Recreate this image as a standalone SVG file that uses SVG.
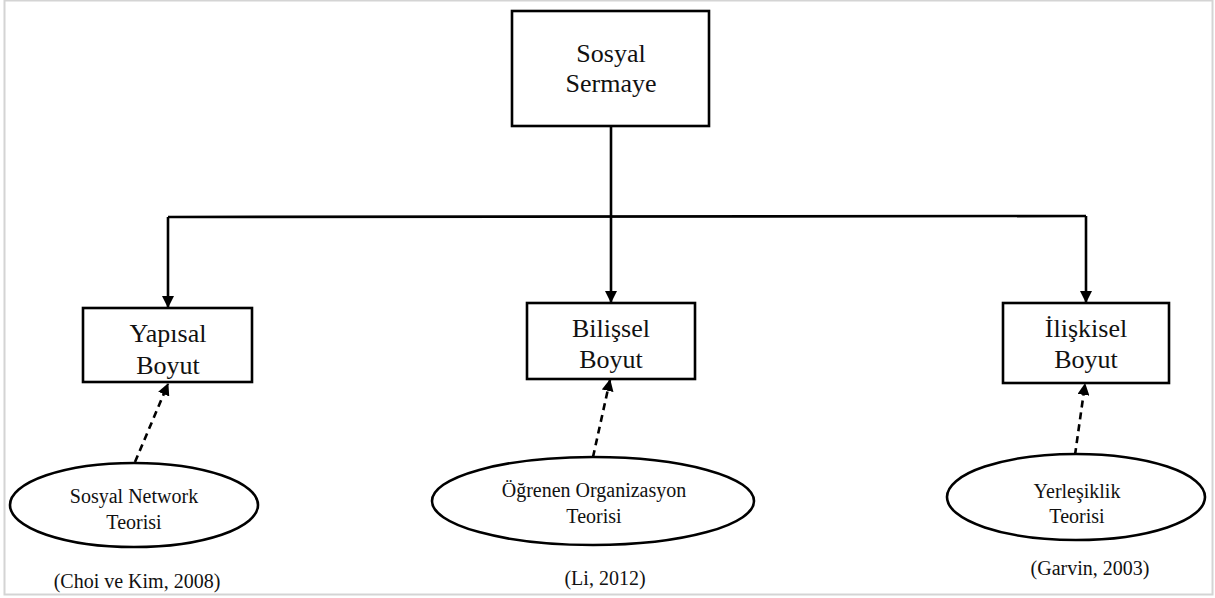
<svg xmlns="http://www.w3.org/2000/svg" width="1215" height="598" viewBox="0 0 1215 598">
<defs>
<style>
.box{fill:#fff;stroke:#000;stroke-width:2.6}
.ell{fill:#fff;stroke:#000;stroke-width:2.6}
.t{font-family:'Liberation Serif','DejaVu Serif',serif;fill:#111;text-anchor:middle}
.big{font-size:26px}
.sm{font-size:20px}
.ln{fill:none;stroke:#000;stroke-width:2.6}
.dash{fill:none;stroke:#000;stroke-width:2.6;stroke-dasharray:7,5}
</style>
<marker id="ah" viewBox="0 0 12 12" refX="11" refY="6" markerWidth="12" markerHeight="12" markerUnits="userSpaceOnUse" orient="auto">
<path d="M0,0 L12,6 L0,12 Z" fill="#000"/>
</marker>
</defs>
<rect x="0" y="0" width="1215" height="598" fill="#fff"/>
<rect x="4.5" y="0.5" width="1208" height="594" fill="none" stroke="#d4d4d4" stroke-width="2"/>
<g id="connectors">
<line class="ln" x1="611" y1="126" x2="611" y2="217"/>
<line class="ln" x1="168" y1="217" x2="1086" y2="216"/>
<path class="ln" d="M168,217 V307" marker-end="url(#ah)"/>
<path class="ln" d="M611,217 V302" marker-end="url(#ah)"/>
<path class="ln" d="M1086,216 V302" marker-end="url(#ah)"/>
<path class="dash" d="M135,462 L168,384" marker-end="url(#ah)"/>
<path class="dash" d="M593,457 L610,380" marker-end="url(#ah)"/>
<path class="dash" d="M1075,455 L1085,384" marker-end="url(#ah)"/>
</g>
<g id="sosyal-sermaye">
<rect class="box" x="512" y="11" width="197" height="115"/>
<text class="t big" x="611" y="62" font-family="Liberation Serif">Sosyal</text>
<text class="t big" x="611" y="92" font-family="Liberation Serif">Sermaye</text>
</g>
<g id="yapisal-boyut">
<rect class="box" x="83" y="308" width="169" height="74"/>
<text class="t big" x="168" y="342">Yapısal</text>
<text class="t big" x="168" y="374">Boyut</text>
</g>
<g id="bilissel-boyut">
<rect class="box" x="527" y="303" width="168" height="76"/>
<text class="t big" x="611" y="337">Bilişsel</text>
<text class="t big" x="611" y="368">Boyut</text>
</g>
<g id="iliskisel-boyut">
<rect class="box" x="1003" y="303" width="166" height="80"/>
<text class="t big" x="1086" y="337">İlişkisel</text>
<text class="t big" x="1086" y="368">Boyut</text>
</g>
<g id="sosyal-network">
<ellipse class="ell" cx="134" cy="505" rx="124" ry="42"/>
<text class="t sm" x="134" y="503">Sosyal Network</text>
<text class="t sm" x="134" y="529">Teorisi</text>
</g>
<g id="ogrenen-organizasyon">
<ellipse class="ell" cx="593" cy="501" rx="161" ry="44"/>
<text class="t sm" x="594" y="497">Öğrenen Organizasyon</text>
<text class="t sm" x="594" y="523">Teorisi</text>
</g>
<g id="yerlesiklik">
<ellipse class="ell" cx="1076" cy="497" rx="129" ry="43"/>
<text class="t sm" x="1077" y="498">Yerleşiklik</text>
<text class="t sm" x="1077" y="523">Teorisi</text>
</g>
<g id="citations">
<text class="t sm" x="137" y="588">(Choi ve Kim, 2008)</text>
<text class="t sm" x="605" y="585">(Li, 2012)</text>
<text class="t sm" x="1090" y="575">(Garvin, 2003)</text>
</g>
</svg>
